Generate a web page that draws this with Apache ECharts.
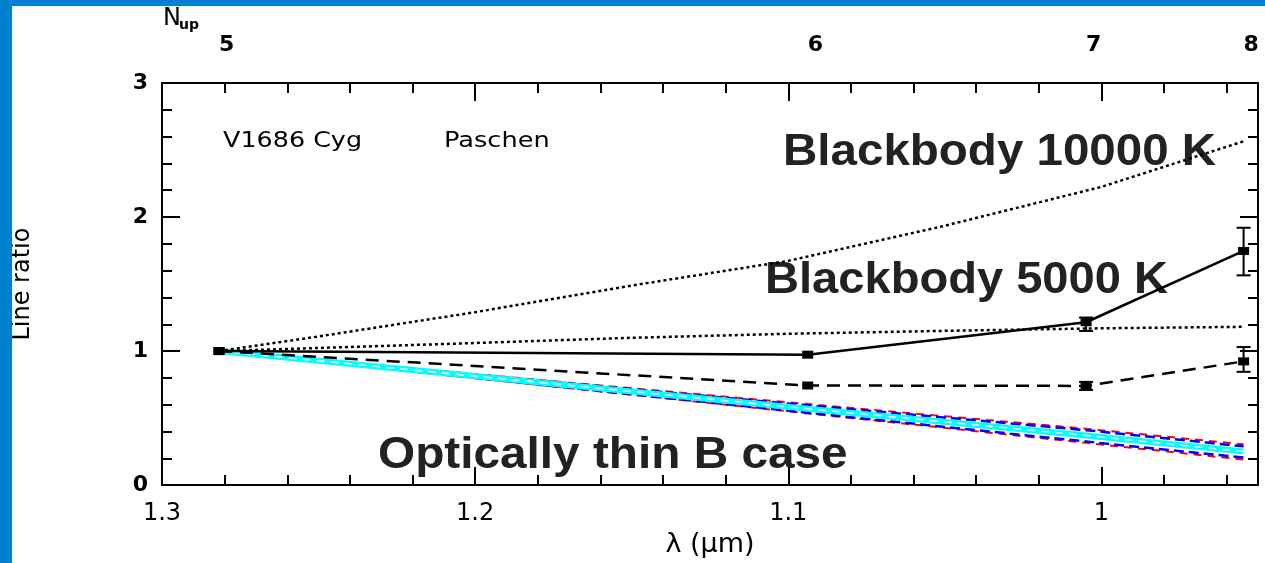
<!DOCTYPE html>
<html>
<head>
<meta charset="utf-8">
<script src="https://cdn.jsdelivr.net/npm/echarts@6/dist/echarts.min.js"></script>
<style>
html,body{margin:0;padding:0;background:#fff;}
#chart{width:1265px;height:563px;}
</style>
</head>
<body>
<div id="chart"></div>
<script>
// Paschen line wavelengths (µm) and upper levels
const lambdaPa = [1.2818, 1.0938, 1.0049, 0.9546];
const nUp = ['5', '6', '7', '8'];

// Observed ratios (solid line) with error bars
const obsSolid = [1.0, 0.973, 1.215, 1.747];
const obsSolidLow = [null, null, 1.15, 1.565];
const obsSolidHigh = [null, null, 1.25, 1.92];

// Observed ratios (dashed line) with error bars
const obsDashed = [1.0, 0.743, 0.74, 0.923];
const obsDashedLow = [null, null, 0.71, 0.845];
const obsDashedHigh = [null, null, 0.77, 1.03];

// Optically thin case B model lines
const caseBRedUp = [1.0, 0.605, 0.42, 0.304];
const caseBBlueUp = [1.0, 0.595, 0.41, 0.289];
const caseBCenter = [1.0, 0.57, 0.37, 0.25];
const caseBBlueLow = [1.0, 0.54, 0.325, 0.205];
const caseBRedLow = [1.0, 0.535, 0.315, 0.19];

// Blackbody curves
const bbLambda = [1.2818, 1.25, 1.2, 1.15, 1.1, 1.05, 1.0, 0.9546];
const bb10000 = [1.0, 1.109, 1.29, 1.489, 1.673, 1.935, 2.225, 2.565];
const bb5000 = [1.0, 1.023, 1.060, 1.099, 1.129, 1.151, 1.170, 1.181];

// Axis ticks
const xMajor = [1.3, 1.2, 1.1, 1.0];
const xMajorLabels = ['1.3', '1.2', '1.1', '1'];
const xMinor = [0.96, 0.98, 1.02, 1.04, 1.06, 1.08, 1.12, 1.14, 1.16, 1.18, 1.22, 1.24, 1.26, 1.28];

const pairs = (xs, ys) => xs.map((x, i) => [x, ys[i]]);
const errs = (xs, lo, hi) => xs.map((x, i) => [x, lo[i], hi[i]]).filter(d => d[1] != null);

const chart = echarts.init(document.getElementById('chart'), null, {renderer: 'canvas'});
const FONT = 'DejaVu Sans';
const AX = {color: '#000', width: 2};

function xAx(pos, major) {
  return {
    type: 'value', position: pos, min: 0.95, max: 1.3, inverse: true,
    splitLine: {show: false},
    axisLine: {show: major, onZero: false, lineStyle: AX},
    axisTick: {show: true, inside: true, length: major ? 18 : 10,
      customValues: major ? xMajor : xMinor, lineStyle: AX},
    axisLabel: {show: false}
  };
}

const xBottom = xAx('bottom', true);
xBottom.axisLabel = {show: true, customValues: xMajor, margin: 17,
  formatter: v => { const i = xMajor.findIndex(m => Math.abs(m - v) < 1e-6); return i >= 0 ? xMajorLabels[i] : ''; },
  fontSize: 24, fontFamily: FONT, color: '#000'};
xBottom.name = 'λ (μm)';
xBottom.nameLocation = 'middle';
xBottom.nameGap = 45;
xBottom.nameTextStyle = {fontSize: 27, fontFamily: FONT, color: '#000'};

const xTop = xAx('top', true);
xTop.axisLabel = {show: true, customValues: lambdaPa, margin: 27, align: 'left',
  formatter: v => { const i = lambdaPa.findIndex(m => Math.abs(m - v) < 1e-6); return i >= 0 ? nUp[i] : ''; },
  fontSize: 22, fontWeight: 'bold', fontFamily: FONT, color: '#000'};

function yAx(pos, labels) {
  return {
    type: 'value', position: pos, min: 0, max: 3, interval: 1,
    splitLine: {show: false}, minorSplitLine: {show: false},
    axisLine: {show: true, onZero: false, lineStyle: AX},
    axisTick: {show: true, inside: true, length: 18, lineStyle: AX},
    minorTick: {show: true, splitNumber: 5, length: 10, lineStyle: AX},
    axisLabel: {show: labels, margin: 14, fontSize: 22, fontWeight: 'bold', fontFamily: FONT, color: '#000', padding: [4, 0, 0, 0]}
  };
}
const yLeft = yAx('left', true);
yLeft.name = 'Line ratio';
yLeft.nameLocation = 'middle';
yLeft.nameGap = 127;
yLeft.nameTextStyle = {fontSize: 24, fontFamily: FONT, color: '#000'};
const yRight = yAx('right', false);

function line(name, xs, ys, color, width, type, z) {
  return {type: 'line', name, xAxisIndex: 0, yAxisIndex: 0, data: pairs(xs, ys),
    showSymbol: false, symbol: 'none', silent: true, z: z || 2,
    lineStyle: {color, width, type}};
}

function errSeries(name, data) {
  return {
    type: 'custom', name, xAxisIndex: 0, yAxisIndex: 0, z: 6, silent: true,
    encode: {x: 0, y: [1, 2]},
    data,
    renderItem: (params, api) => {
      const x = api.value(0);
      const p1 = api.coord([x, api.value(1)]);
      const p2 = api.coord([x, api.value(2)]);
      const w = 7;
      const st = {stroke: '#000', lineWidth: 2};
      return {type: 'group', children: [
        {type: 'line', shape: {x1: p1[0], y1: p1[1], x2: p2[0], y2: p2[1]}, style: st},
        {type: 'line', shape: {x1: p1[0] - w, y1: p1[1], x2: p1[0] + w, y2: p1[1]}, style: st},
        {type: 'line', shape: {x1: p2[0] - w, y1: p2[1], x2: p2[0] + w, y2: p2[1]}, style: st}
      ]};
    }
  };
}

function txt(text, x, y, size, scaleX, bold, family, fill, vAlign) {
  return {type: 'text', x, y, scaleX: scaleX || 1,
    style: {text, fontSize: size, fontWeight: bold ? 'bold' : 'normal', fontFamily: family || FONT,
      fill: fill || '#000', textAlign: 'left', textVerticalAlign: vAlign || 'middle',
      align: 'left', verticalAlign: vAlign || 'middle'}};
}

const BLUE = '#0280d0';
const option = {
  animation: false,
  backgroundColor: '#fff',
  grid: {left: 162, right: 7, top: 83, bottom: 76, containLabel: false},
  xAxis: [xBottom, xAx('bottom', false), xTop, xAx('top', false)],
  yAxis: [yLeft, yRight],
  graphic: [
    {type: 'rect', z: 100, shape: {x: 0, y: 0, width: 12, height: 563}, style: {fill: BLUE}},
    {type: 'rect', z: 100, shape: {x: 0, y: 0, width: 1265, height: 6}, style: {fill: BLUE}},
    txt('N', 163, 7, 24, 1, false, FONT, '#000', 'top'),
    txt('up', 179, 18, 14, 1, true, FONT, '#000', 'top'),
    txt('V1686 Cyg', 223, 142, 21, 1.21, false),
    txt('Paschen', 444, 142, 21, 1.22, false),
    txt('Blackbody 10000 K', 783, 153, 44, 1.08, true, 'Liberation Sans', '#222'),
    txt('Blackbody 5000 K', 765, 281, 44, 1.07, true, 'Liberation Sans', '#222'),
    txt('Optically thin B case', 378, 456, 44, 1.085, true, 'Liberation Sans', '#222')
  ],
  series: [
    line('caseB red up', lambdaPa, caseBRedUp, '#ff0000', 2, [8, 6], 2),
    line('caseB red low', lambdaPa, caseBRedLow, '#ff0000', 2, [8, 6], 2),
    line('caseB blue up', lambdaPa, caseBBlueUp, '#0000ff', 2.5, [10, 5], 3),
    line('caseB blue low', lambdaPa, caseBBlueLow, '#0000ff', 2.5, [10, 5], 3),
    line('caseB cyan', lambdaPa, caseBCenter, '#00ffff', 6, 'solid', 4),
    line('caseB white', lambdaPa, caseBCenter, '#ffffff', 1.5, [8, 6], 4),
    line('BB 10000 K', bbLambda, bb10000, '#000', 2.5, [3, 3], 5),
    line('BB 5000 K', bbLambda, bb5000, '#000', 2.5, [3, 3], 5),
    Object.assign(line('obs solid', lambdaPa, obsSolid, '#000', 2.5, 'solid', 6),
      {showSymbol: true, symbol: 'rect', symbolSize: [11, 8], itemStyle: {color: '#000'}}),
    Object.assign(line('obs dashed', lambdaPa, obsDashed, '#000', 2.5, [13, 8], 6),
      {showSymbol: true, symbol: 'rect', symbolSize: [11, 8], itemStyle: {color: '#000'}}),
    errSeries('err solid', errs(lambdaPa, obsSolidLow, obsSolidHigh)),
    errSeries('err dashed', errs(lambdaPa, obsDashedLow, obsDashedHigh))
  ]
};
chart.setOption(option);
</script>
</body>
</html>
